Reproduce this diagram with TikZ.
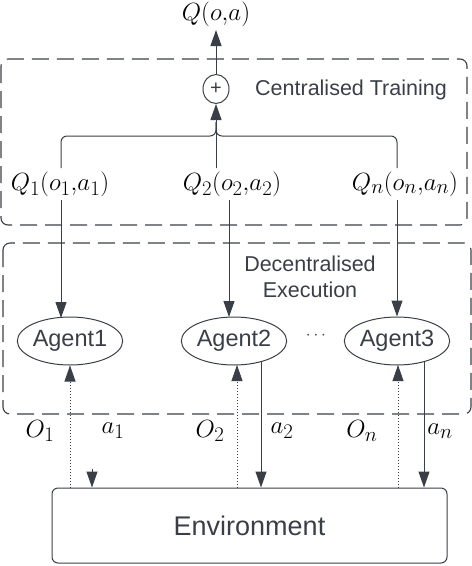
\documentclass[tikz,border=0pt]{standalone}
\usepackage{fontspec}
\setmainfont{Liberation Sans}
\DeclareMathSizes{26}{26}{21}{16}
\usetikzlibrary{arrows.meta,shapes.geometric}
\definecolor{ink}{HTML}{3A3F47}
\begin{document}
\begin{tikzpicture}[x=1pt,y=-1pt,
  line/.style={draw=ink,line width=1pt},
  tip/.style={-{Triangle[width=11pt,length=16pt]}},
  dots/.style={draw=ink,line width=0.8pt,dash pattern=on 1pt off 2pt},
  dashbox/.style={draw=ink,line width=1.1pt,dash pattern=on 17pt off 8pt,rounded corners=7pt},
  sans/.style={text=ink,font=\fontsize{21.5}{26}\selectfont,align=center},
  mlbl/.style={text=black,font=\fontsize{26}{30}\selectfont,inner sep=1pt},
  agent/.style={ellipse,draw=ink,line width=1pt,minimum width=97pt,minimum height=48pt,inner sep=0pt,text=ink,font=\fontsize{23.5}{28}\selectfont},
]
\useasboundingbox (0,0) rectangle (472,566);
% boxes
\draw[dashbox] (1,59) rectangle (467,225);
\draw[dashbox] (3,243) rectangle (471,414);
% labels
\node[sans] (ct) at (351,90) {Centralised Training};
\node[sans] (de) at (310,277) {Decentralised\\Execution};
\node[mlbl] (qoa) at (216,14) {$Q(o{,}a)$};
\node[ellipse,draw=ink,line width=1pt,minimum width=26pt,minimum height=29pt,inner sep=0pt,text=ink,font=\fontsize{20}{24}\selectfont] (plus) at (216,89) {+};
\node[mlbl] (q1) at (60,184) {$Q_1(o_1{,}a_1)$};
\node[mlbl] (q2) at (232,184) {$Q_2(o_2{,}a_2)$};
\node[mlbl] (qn) at (405,184) {$Q_n(o_n{,}a_n)$};
% agents
\node[agent] (ag1) at (70,341) {Agent1};
\node[agent] (ag2) at (234,341) {Agent2};
\node[agent] (ag3) at (397,341) {Agent3};
\node[text=ink,font=\fontsize{18}{20}\selectfont] (dd) at (316,336) {$\cdots$};
% environment
\node[draw=ink,line width=1pt,rounded corners=6pt,minimum width=395pt,minimum height=75pt,text=ink,font=\fontsize{27}{32}\selectfont] (env) at (249.5,525.5) {Environment};
% obs/action labels
\node[mlbl] (o1) at (40,431) {$O_1$};
\node[mlbl] (l1) at (113,431) {$a_1$};
\node[mlbl] (o2) at (210,431) {$O_2$};
\node[mlbl] (l2) at (282,431) {$a_2$};
\node[mlbl] (on) at (362,431) {$O_n$};
\node[mlbl] (ln) at (440,431) {$a_n$};
% aggregation
\coordinate (jn) at (216,136);
\draw[line,tip] (plus.north) -- (216,30);
\draw[line,tip] (216,168) -- (plus.south);
\draw[line,rounded corners=6pt] (61,168) |- (jn) -- ++(0,-14);
\draw[line,rounded corners=6pt] (397,168) |- (jn) -- ++(0,-14);
% Q to agents
\draw[line,tip] (61,200) -- (61,318);
\draw[line,tip] (229,200) -- (229,317);
\draw[line,tip] (397,200) -- (ag3.north);
% observations
\draw[dots,tip] (env.north -| ag1) -- (ag1.south);
\draw[dots,tip] (env.north -| 237,0) -- (237,365);
\draw[dots,tip] (env.north -| 398,0) -- (398,365);
% actions
\coordinate (h1) at (92,469);
\draw[line,tip] (h1) -- (h1 |- env.north);
\draw[line,tip] (ag2.-38) -- (ag2.-38 |- env.north);
\draw[line,tip] (ag3.-38) -- (ag3.-38 |- env.north);
\end{tikzpicture}
\end{document}
